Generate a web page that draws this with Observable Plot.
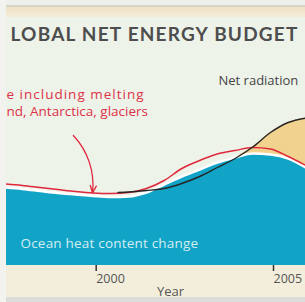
<!DOCTYPE html>
<html><head><meta charset="utf-8">
<script src="https://cdn.jsdelivr.net/npm/d3@7"></script>
<script src="https://cdn.jsdelivr.net/npm/@observablehq/plot@0.6"></script>
<style>
html,body{margin:0;padding:0;background:#f2f3ef;}
#wrap{position:relative;width:305px;height:302px;overflow:hidden;background:#eef3ea;}
.band{position:absolute;}
#chart{position:absolute;left:0;top:0;}
</style></head><body>
<div id="wrap">
  <div class="band" style="left:0;top:0;width:305px;height:5px;background:#efefec"></div>
  <div class="band" style="left:0;top:5px;width:305px;height:2px;background:#d6d3cb"></div>
  <div class="band" style="left:0;top:7px;width:305px;height:10px;background:linear-gradient(#efe2c4,#f3ecda)"></div>
  <div class="band" style="left:0;top:265px;width:305px;height:32px;background:#f3eedb"></div>
  <div class="band" style="left:0;top:297px;width:305px;height:5px;background:#dcdcd8"></div>
  <div class="band" style="left:0;top:0;width:6px;height:302px;background:#f2f3ef"></div>
  <div id="chart"></div>
</div>
<script>
// ---- data ----
const years        = [1997.5,1998,1998.5,1999,1999.5,2000,2000.5,2001,2001.5,2002,2002.5,2003,2003.5,2004,2004.5,2005,2005.5,2006];
const oceanHeat    = [7.8,7.65,7.45,7.25,7.1,6.95,6.85,6.9,7.3,8.1,8.9,9.6,10.3,10.8,11.2,11.1,10.7,9.8];
const oceanPlusIce = [8.15,8.0,7.8,7.6,7.4,7.25,7.2,7.3,7.7,8.5,9.7,10.5,11.15,11.5,11.8,11.65,10.9,10.0];
const radYears     = [2000.7,2001,2001.5,2002,2002.5,2003,2003.5,2004,2004.5,2005,2005.5,2006];
const netRadiation = [7.3,7.35,7.5,7.7,8.2,8.9,9.8,10.7,11.85,13.3,14.3,14.75];
const tickYears    = [2000, 2005];
const titleText    = "LOBAL NET ENERGY BUDGET";
const iceLabel1    = "e including melting";
const iceLabel2    = "nd, Antarctica, glaciers";
const radLabel     = "Net radiation";
const oceanLabel   = "Ocean heat content change";
const xLabel       = "Year";
const arrowPts     = [{x1: 1999.44, y1: 13.0, x2: 1999.98, y2: 7.25}];

// ---- derived tables ----
const ocean = years.map((x, i) => ({x, y: oceanHeat[i]}));
const ice = years.map((x, i) => ({x, y: oceanPlusIce[i]}));
const rad = radYears.map((x, i) => ({x, y: netRadiation[i]}));
const radByYear = new Map(rad.map(d => [d.x, d.y]));
const surplus = ocean.filter(d => d.x >= 2004 && radByYear.has(d.x))
  .map(d => ({x: d.x, y1: d.y, y2: Math.max(d.y, radByYear.get(d.x))}));

const curve = "monotone-x";
const sans = "'Open Sans', 'Noto Sans', sans-serif";

const chart = Plot.plot({
  width: 305, height: 302,
  marginLeft: 6, marginRight: 0, marginTop: 15, marginBottom: 37,
  style: {background: "transparent", overflow: "visible"},
  x: {domain: [1997.555, 2005.987]},
  y: {domain: [0, 25], axis: null},
  marks: [
    Plot.areaY(surplus, {x: "x", y1: "y1", y2: "y2", fill: "#f2d28f", curve, clip: true}),
    Plot.areaY(ocean, {x: "x", y: "y", fill: "#12a4c6", curve, clip: true}),
    Plot.line(ocean, {x: "x", y: "y", stroke: "#ffffff", strokeWidth: 2.5, curve, clip: true}),
    Plot.line(ice, {x: "x", y: "y", stroke: "#e0283c", strokeWidth: 1.5, curve, clip: true}),
    Plot.line(rad, {x: "x", y: "y", stroke: "#262626", strokeWidth: 1.4, curve, clip: true}),
    Plot.arrow(arrowPts, {x1: "x1", y1: "y1", x2: "x2", y2: "y2", bend: 25, stroke: "#e0283c", strokeWidth: 1.3, headLength: 9, headAngle: 45}),
    Plot.axisX({ticks: tickYears, tickFormat: d => String(d), tickSize: 6, tickPadding: 3, textAnchor: "start", dx: 3,
      stroke: "#333", strokeWidth: 1.5, fill: "#555", fontSize: 12.5, fontFamily: sans, label: null}),
    Plot.text([titleText], {text: d => d, frameAnchor: "top-left", dx: 4, dy: 25, lineAnchor: "bottom", textAnchor: "start",
      fontSize: 19, fontFamily: "Lato, sans-serif", fontWeight: 700, fill: "#4d4d4d"}),
    Plot.text([iceLabel1], {text: d => d, frameAnchor: "top-left", dx: 0, dy: 83, lineAnchor: "bottom", textAnchor: "start",
      fontSize: 13.5, fontFamily: sans, fill: "#dc3247"}),
    Plot.text([iceLabel2], {text: d => d, frameAnchor: "top-left", dx: 0, dy: 100, lineAnchor: "bottom", textAnchor: "start",
      fontSize: 13.5, fontFamily: sans, fill: "#dc3247"}),
    Plot.text([radLabel], {text: d => d, frameAnchor: "top-left", dx: 212, dy: 69, lineAnchor: "bottom", textAnchor: "start",
      fontSize: 13, fontFamily: sans, fill: "#444"}),
    Plot.text([oceanLabel], {text: d => d, frameAnchor: "top-left", dx: 14, dy: 232, lineAnchor: "bottom", textAnchor: "start",
      fontSize: 13.5, fontFamily: sans, fill: "#d4edf4"}),
    Plot.text([xLabel], {text: d => d, frameAnchor: "bottom-left", dx: 164, dy: 30, lineAnchor: "bottom", textAnchor: "middle",
      fontSize: 13, fontFamily: sans, fill: "#555"})
  ]
});
const spacing = new Map([[titleText, "1.2px"], [iceLabel1, "1px"], [oceanLabel, "0.2px"]]);
d3.select(chart).selectAll("text").each(function() {
  if (spacing.has(this.textContent)) this.style.letterSpacing = spacing.get(this.textContent);
});
document.getElementById("chart").appendChild(chart);
</script>
</body></html>
